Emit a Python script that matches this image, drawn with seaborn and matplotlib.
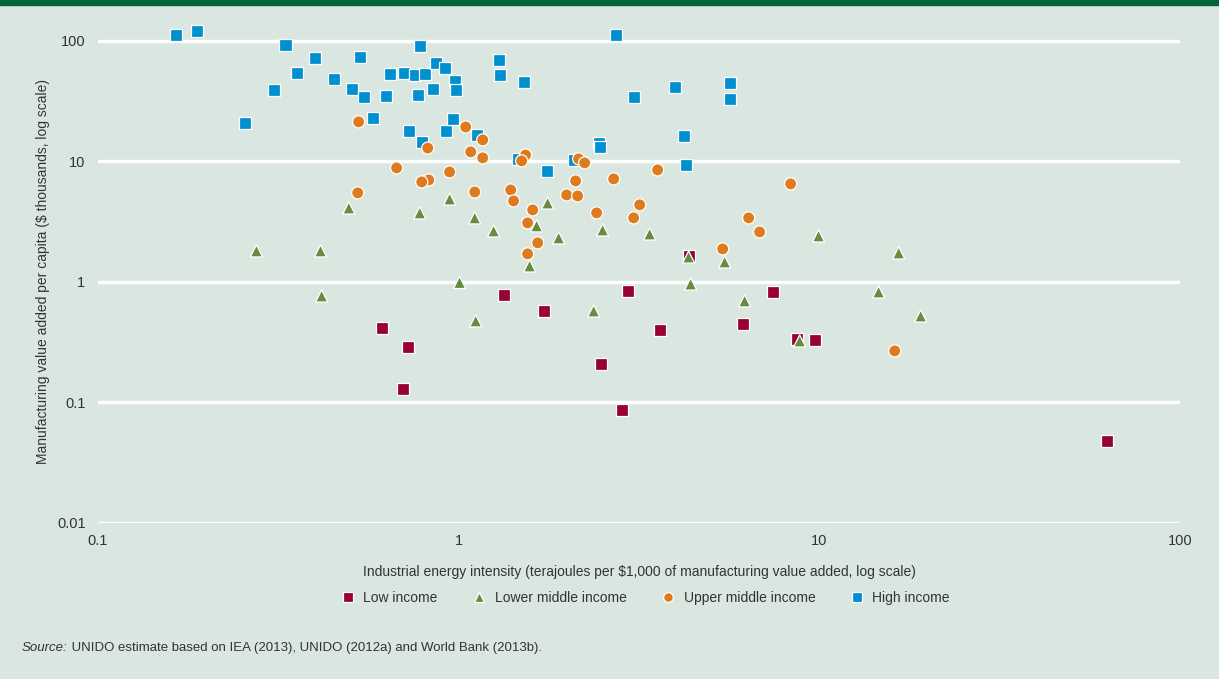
import pandas as pd
import matplotlib
matplotlib.use("Agg")
import matplotlib.pyplot as plt
import seaborn as sns
from matplotlib.patches import Rectangle

# industrial energy intensity (TJ per $1,000 MVA) and MVA per capita ($ thousands)
high_x = [0.165, 0.188, 0.255, 0.307, 0.331, 0.356, 0.399, 0.450, 0.505, 0.532, 0.545, 0.578,
          0.628, 0.644, 0.704, 0.727, 0.755, 0.770, 0.780, 0.790, 0.805, 0.847, 0.863, 0.915,
          0.920, 0.962, 0.975, 0.981, 1.122, 1.291, 1.299, 1.457, 1.514, 1.754, 2.084, 2.444,
          2.460, 2.725, 3.056, 3.97, 4.205, 4.259, 5.64, 5.64]
high_y = [112, 121, 20.9, 39.2, 92.7, 54.2, 72.3, 48.4, 40.0, 73.7, 34.3, 23.0,
          35.0, 53.2, 54.2, 17.9, 52.2, 35.6, 90.9, 14.5, 53.2, 40.0, 65.7, 59.7,
          17.9, 22.5, 46.6, 39.2, 16.6, 69.6, 52.2, 10.5, 45.7, 8.34, 10.3, 14.2,
          13.2, 112, 34.3, 41.5, 16.3, 9.35, 44.8, 33.0]

low_x = [0.612, 0.699, 0.722, 1.333, 1.721, 2.476, 2.830, 2.941, 3.608, 4.341, 6.13, 7.42,
         8.65, 9.70, 62.6]
low_y = [0.415, 0.129, 0.289, 0.780, 0.574, 0.209, 0.0867, 0.842, 0.400, 1.64, 0.448, 0.826,
         0.336, 0.330, 0.0479]

lmid_x = [0.275, 0.414, 0.417, 0.496, 0.780, 0.944, 1.006, 1.108, 1.115, 1.250, 1.573, 1.645,
          1.765, 1.893, 2.368, 2.507, 3.385, 4.341, 4.397, 5.464, 6.207, 8.82, 9.95, 14.6,
          16.6, 19.1]
lmid_y = [1.81, 1.81, 0.765, 4.11, 3.74, 4.88, 0.99, 3.40, 0.475, 2.65, 1.358, 2.92,
          4.52, 2.32, 0.574, 2.70, 2.50, 1.61, 0.962, 1.466, 0.696, 0.324, 2.41, 0.826,
          1.74, 0.522]

umid_x = [0.528, 1.046, 1.166, 0.821, 1.080, 1.166, 0.673, 0.944, 0.826, 0.790, 0.525, 1.108,
          1.533, 1.495, 2.151, 2.235, 3.562, 2.110, 2.690, 8.325, 1.394, 1.420, 1.993, 2.138,
          1.604, 3.176, 2.413, 3.056, 6.368, 1.553, 6.83, 1.656, 1.553, 5.395, 16.18]
umid_y = [21.3, 19.3, 15.1, 12.9, 12.0, 10.7, 8.83, 8.18, 7.02, 6.76, 5.48, 5.58,
          11.3, 10.1, 10.5, 9.72, 8.50, 6.89, 7.16, 6.51, 5.80, 4.70, 5.27, 5.17,
          3.96, 4.36, 3.74, 3.40, 3.40, 3.09, 2.60, 2.11, 1.71, 1.88, 0.268]

groups = ["Low income", "Lower middle income", "Upper middle income", "High income"]
colors = {"Low income": "#990033", "Lower middle income": "#668c42",
          "Upper middle income": "#e07a1f", "High income": "#0090d0"}
markers = {"Low income": "s", "Lower middle income": "^",
           "Upper middle income": "o", "High income": "s"}

# row order = drawing order (blue at the back, orange on top)
df = pd.concat([
    pd.DataFrame({"x": high_x, "y": high_y, "group": "High income"}),
    pd.DataFrame({"x": low_x, "y": low_y, "group": "Low income"}),
    pd.DataFrame({"x": lmid_x, "y": lmid_y, "group": "Lower middle income"}),
    pd.DataFrame({"x": umid_x, "y": umid_y, "group": "Upper middle income"}),
], ignore_index=True)

bg = "#d9e7e0"
txt = "#333333"
sns.set_style("white")
plt.rcParams["font.family"] = ["Liberation Sans", "DejaVu Sans"]
fs = 10

fig = plt.figure(figsize=(12.19, 6.79), dpi=100, facecolor=bg)
ax = fig.add_axes([98 / 1219, 156 / 679, 1082 / 1219, 503 / 679])
ax.set_facecolor(bg)
fig.patches.append(Rectangle((0, 1 - 5 / 679), 1, 5 / 679, transform=fig.transFigure,
                             color="#00663a", zorder=5))

sns.scatterplot(data=df, x="x", y="y", hue="group", style="group", hue_order=groups,
                style_order=groups, palette=colors, markers=markers, s=76,
                edgecolor="white", linewidth=0.9, ax=ax, zorder=3)

ax.set_xscale("log")
ax.set_yscale("log")
ax.set_xlim(0.1, 100)
ax.set_ylim(0.01, 149)
ax.set_xticks([0.1, 1, 10, 100], ["0.1", "1", "10", "100"])
ax.set_yticks([0.01, 0.1, 1, 10, 100], ["0.01", "0.1", "1", "10", "100"])
ax.minorticks_off()
ax.tick_params(length=0, labelsize=10.5, labelcolor=txt)
ax.tick_params(axis="x", pad=8)
ax.tick_params(axis="y", pad=9)
ax.yaxis.grid(True, color="white", linewidth=2.4)
ax.xaxis.grid(False)
for sp in ax.spines.values():
    sp.set_visible(False)

ax.set_xlabel("Industrial energy intensity (terajoules per $1,000 of manufacturing value added, log scale)",
              fontsize=fs, color=txt, labelpad=12)
ax.set_ylabel("Manufacturing value added per capita ($ thousands, log scale)",
              fontsize=fs, color=txt, labelpad=5)

sns.move_legend(ax, "center", bbox_to_anchor=(642 / 1219, 81 / 679),
                bbox_transform=fig.transFigure, ncol=4, frameon=False, title=None,
                fontsize=fs, handletextpad=0.1, columnspacing=2.0, markerscale=0.8)
for t in ax.get_legend().get_texts():
    t.set_color(txt)

t1 = fig.text(22 / 1219, 31 / 679, "Source:", fontsize=9.5, style="italic", color=txt, va="center")
ax.annotate(" UNIDO estimate based on IEA (2013), UNIDO (2012a) and World Bank (2013b).",
            xy=(1, 0.5), xycoords=t1, va="center", fontsize=9.5, color=txt,
            annotation_clip=False)

fig.savefig("out.png", dpi=100, facecolor=bg)
